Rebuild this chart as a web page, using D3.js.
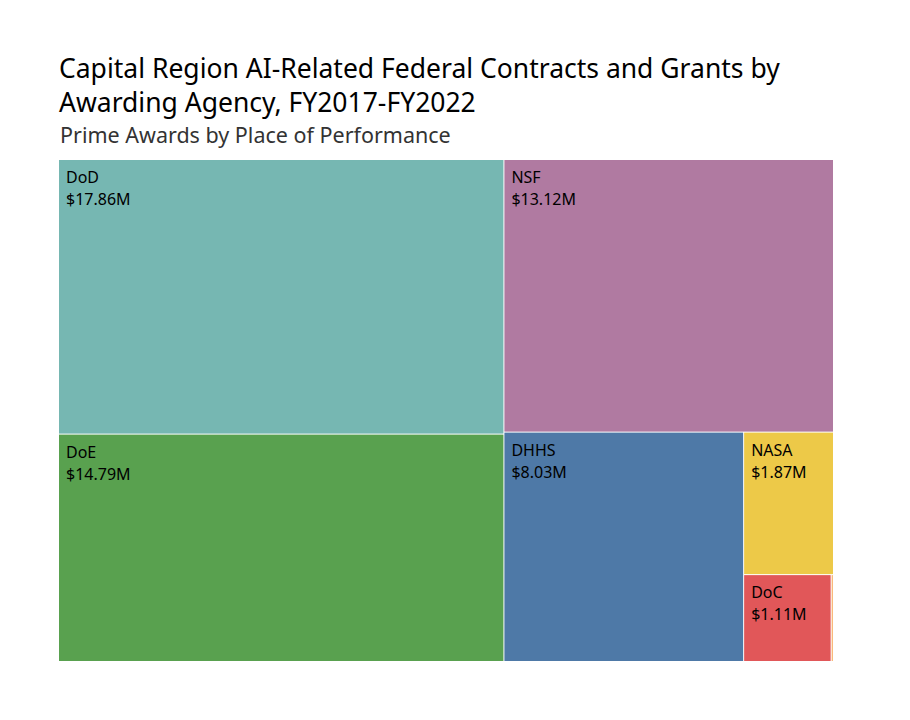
<!DOCTYPE html>
<html>
<head>
<meta charset="utf-8">
<script src="https://cdn.jsdelivr.net/npm/d3@7"></script>
<style>
  body { margin: 0; background: #fff; }
  text { font-family: "Noto Sans", sans-serif; }
</style>
</head>
<body>
<svg id="chart" width="910" height="720"></svg>
<script>
// agencies and award totals ($M)
var agencies = ["DoD", "NSF", "DoE", "DHHS", "NASA", "DoC", "Other"]
var amounts = [17.86, 13.12, 14.79, 8.03, 1.87, 1.11, 0.03]
var colors = ["#76B7B2", "#B07AA1", "#59A14F", "#4E79A7", "#EDC948", "#E15759", "#F9B97A"]

var titleLines = ["Capital Region AI-Related Federal Contracts and Grants by", "Awarding Agency, FY2017-FY2022"]
var subtitle = "Prime Awards by Place of Performance"

var svg = d3.select('#chart')

svg.selectAll('.title')
  .data(titleLines)
  .enter().append('text')
  .attr('class', 'title')
  .attr('x', 59)
  .attr('y', (d, i) => 78 + i * 34)
  .attr('font-size', 26.5)
  .attr('fill', '#000')
  .text(d => d)

svg.append('text')
  .attr('x', 60)
  .attr('y', 143)
  .attr('font-size', 21.5)
  .attr('fill', '#333')
  .text(subtitle)

var rows = agencies.map((a, i) => ({ name: a, value: amounts[i], color: colors[i] }))

var root = d3.hierarchy({ children: rows })
  .sum(d => d.value)
  .sort((a, b) => b.value - a.value)

d3.treemap()
  .tile(d3.treemapSquarify)
  .size([774, 501])
  .paddingInner(1)
  .round(false)(root)

var g = svg.append('g').attr('transform', 'translate(59,160)')

var cell = g.selectAll('g.cell')
  .data(root.leaves())
  .enter().append('g')
  .attr('class', 'cell')
  .attr('transform', d => 'translate(' + d.x0 + ',' + d.y0 + ')')

cell.append('rect')
  .attr('width', d => d.x1 - d.x0)
  .attr('height', d => d.y1 - d.y0)
  .attr('fill', d => d.data.color)

var fmt = d3.format('.2f')
var labeled = cell.filter(d => d.x1 - d.x0 > 40)

labeled.append('text')
  .attr('x', 7)
  .attr('y', 23)
  .attr('font-size', 16)
  .attr('fill', '#000')
  .text(d => d.data.name)

labeled.append('text')
  .attr('x', 7)
  .attr('y', 45)
  .attr('font-size', 16)
  .attr('fill', '#000')
  .text(d => '$' + fmt(d.data.value) + 'M')
</script>
</body>
</html>
